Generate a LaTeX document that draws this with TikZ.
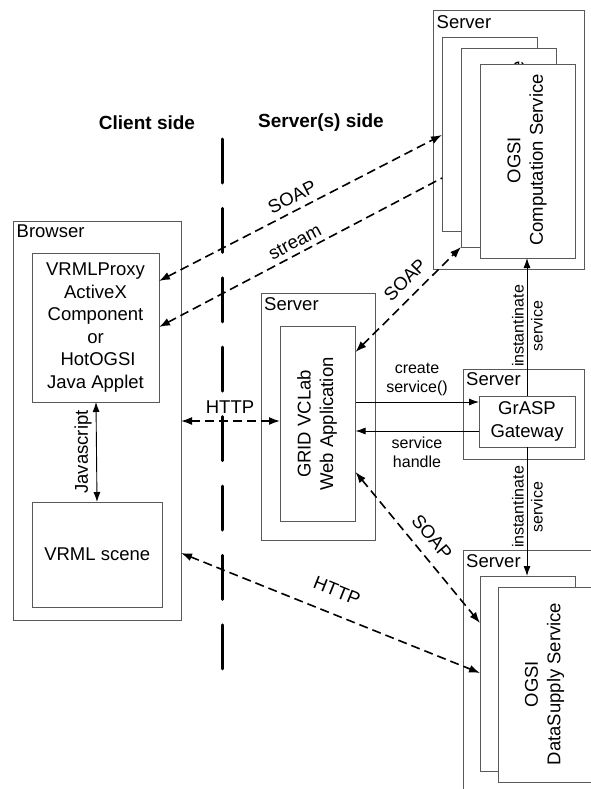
\documentclass[tikz,border=0pt]{standalone}
\usepackage{fontspec}
\setmainfont{Liberation Sans}
\usetikzlibrary{arrows.meta}
\definecolor{edge}{gray}{0.35}
\tikzset{
  boxn/.style={draw=edge,fill=white,line width=1pt,inner sep=0pt,outer sep=0pt,anchor=north west,align=center,font=\fontsize{18.5}{22.5}\selectfont},
  txt/.style={inner sep=0pt,align=center,font=\fontsize{18.5}{22.5}\selectfont},
  small/.style={inner sep=0pt,align=center,font=\fontsize{16}{19}\selectfont},
  head/.style={inner sep=0pt,font=\fontsize{19}{22}\selectfont\bfseries},
  lbl/.style={txt,anchor=north west},
  flowd/.style={line width=1.6pt,dash pattern=on 9pt off 5pt,{Latex[length=11pt,width=8pt]}-{Latex[length=11pt,width=8pt]}},
  flowe/.style={line width=1.6pt,dash pattern=on 9pt off 5pt,{Latex[length=11pt,width=8pt]}-},
  flows/.style={line width=0.9pt,-{Latex[length=10pt,width=7pt]}},
  flowb/.style={line width=0.9pt,{Latex[length=10pt,width=7pt]}-{Latex[length=10pt,width=7pt]}},
}
\newcommand{\bxn}[6][]{\node[boxn,#1,minimum width={(#4-#2)*1pt},minimum height={(#5-#3)*1pt}] (#6) at (#2,#3)}
\begin{document}
\begin{tikzpicture}[x=1pt,y=-1pt]
\useasboundingbox (0,0) rectangle (591,789);
\fill[white] (0,0) rectangle (591,789);
% divider
\coordinate (divtop) at (222.5,139);
\coordinate (divbot) at (222.5,672);
\draw[line width=3pt,line cap=round,dash pattern=on 44pt off 25.4pt] (divtop) -- (divbot);
% headings
\node[head] (hc) at (147,123) {Client side};
\node[head] (hs) at (321,123) {Server(s) side};
% browser
\bxn{13.5}{221}{181}{620}{browser} {};
\node[lbl] (lb) at (16.5,225) {Browser};
\bxn{32}{253}{159}{402}{proxy} {VRMLProxy\\ActiveX\\Component\\or\\\ HotOGSI\\Java Applet};
\bxn{32}{502}{162.5}{607}{scene} {VRML scene};
% top server
\bxn{433.5}{11}{584}{269}{srvtop} {};
\node[lbl] (ls1) at (436.5,15) {Server};
\bxn{442}{38}{537}{231}{cs1} {};
\node[txt,rotate=90] (ct1) at (489,134) {OGSI\\Computation Service};
\bxn{461}{49}{556}{247}{cs2} {};
\node[txt,rotate=90] (ct2) at (508,147) {OGSI\\Computation Service};
\bxn{480}{65}{575.5}{258}{cs3} {};
\node[txt,rotate=90] (ct3) at (527,160) {OGSI\\Computation Service};
% web application server
\bxn{261}{293}{375}{540}{srvweb} {};
\node[lbl] (ls2) at (264,297) {Server};
\bxn{280}{326}{355.5}{521}{web} {};
\node[txt,rotate=90] (wt) at (317,424) {GRID VCLab\\Web Application};
% gateway
\bxn{463}{369}{584}{459}{srvgw} {};
\node[lbl] (ls3) at (466,372) {Server};
\bxn{479}{396}{575}{447}{gw} {GrASP\\Gateway};
% data server
\bxn{463}{550}{630}{830}{srvdata} {};
\node[lbl] (ls4) at (466,554) {Server};
\bxn{480}{576}{575}{771}{ds1} {};
\bxn{498}{587}{640}{782}{ds2} {};
\node[txt,rotate=90] (dt) at (544.5,684) {OGSI\\DataSupply Service};
% connectors
\draw[flowd] (proxy.east |- 0,281) -- (cs1.west |- 0,135);
\node[txt,rotate=27.4] (soapa) at (292,197) {SOAP};
\draw[flowe] (proxy.east |- 0,327) -- (cs1.west |- 0,178);
\node[txt,rotate=27.8] (strm) at (295,242) {stream};
\draw[flowd] (web.east |- 0,352) -- (cs2.west |- 0,247);
\node[txt,rotate=45] (soapb) at (405,280) {SOAP};
\draw[flowd] (web.east |- 0,472) -- (ds1.west |- 0,623);
\node[txt,rotate=-50] (soapc) at (432,537) {SOAP};
\draw[flowd] (browser.east |- 0,553) -- (ds1.west |- 0,673);
\node[txt,rotate=-22] (httpb) at (337,591) {HTTP};
\draw[flowd] (browser.east |- 0,421) -- (web.west |- 0,421);
\node[txt,fill=white,inner xsep=1pt] (httpa) at (230,407) {HTTP};
\draw[flowb] (proxy.south -| 96,0) -- (scene.north -| 97,0);
\node[txt,rotate=90] (js) at (83,452) {Javascript};
\draw[flows] (web.east |- 0,402) -- (gw.west |- 0,402);
\draw[flows] (gw.west |- 0,431) -- (web.east |- 0,431);
\node[small] (cr) at (417,379.5) {create\\service()};
\node[small] (sh) at (417,452.5) {service\\handle};
\draw[flows] (gw.north -| 527,0) -- (cs3.south -| 527,0);
\draw[flows] (gw.south -| 527,0) -- (ds1.north -| 527,0);
\node[small,rotate=90] (ia) at (527.5,326) {instantinate\\service};
\node[small,rotate=90] (ib) at (527.5,507) {instantinate\\service};
\end{tikzpicture}
\end{document}
